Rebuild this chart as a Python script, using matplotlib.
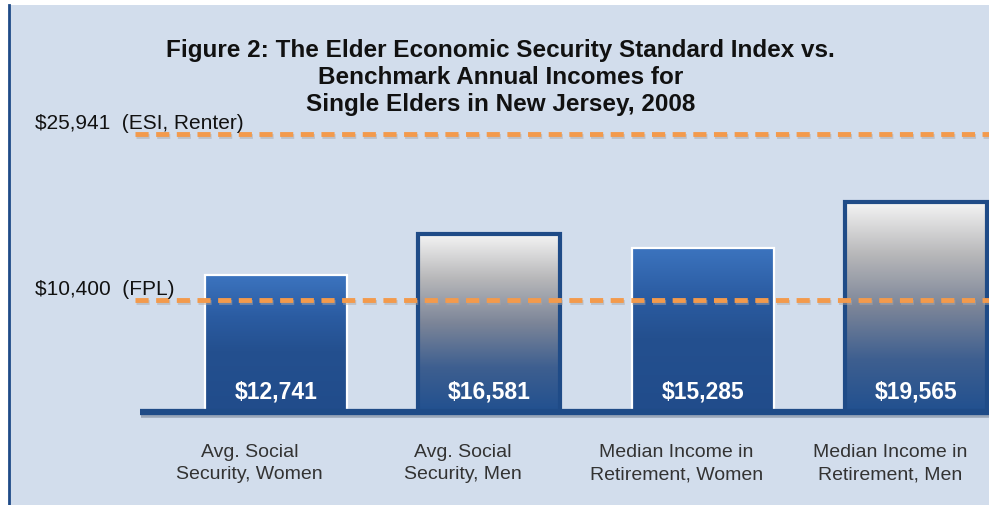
import matplotlib.pyplot as plt
import matplotlib.transforms as mtransforms
from matplotlib.colors import LinearSegmentedColormap
from matplotlib.patches import Rectangle
import numpy as np

plt.rcParams['font.family'] = ['Liberation Sans', 'DejaVu Sans']

# data
categories = ["Avg. Social\nSecurity, Women", "Avg. Social\nSecurity, Men",
              "Median Income in\nRetirement, Women", "Median Income in\nRetirement, Men"]
incomes = [12741, 16581, 15285, 19565]
bar_styles = ["blue", "silver", "blue", "silver"]
ref_values = [25941, 10400]
ref_labels = ["$25,941  (ESI, Renter)", "$10,400  (FPL)"]
title = ("Figure 2: The Elder Economic Security Standard Index vs.\n"
         "Benchmark Annual Incomes for\nSingle Elders in New Jersey, 2008")

BG = "#d2ddec"
NAVY = "#1f4b87"
ORANGE = "#f39a4c"

blue_cmap = LinearSegmentedColormap.from_list(
    "blue", [(0, "#214c8b"), (0.45, "#24508f"), (0.7, "#2b5ca2"), (1, "#3c74bf")])
silver_cmap = LinearSegmentedColormap.from_list(
    "silver", [(0, "#21508f"), (0.25, "#3e5f90"), (0.5, "#7c8598"), (0.75, "#b7b7b9"), (1, "#f4f4f4")])
cmaps = {"blue": blue_cmap, "silver": silver_cmap}
edges = {"blue": "white", "silver": NAVY}
edge_w = {"blue": 1.6, "silver": 3.0}

fig = plt.figure(figsize=(9.89, 5.06), dpi=100, facecolor="white")

# panel background with dark left border
fig.patches.append(Rectangle((9 / 989, 0), 1, 1 - 6 / 506, transform=fig.transFigure,
                             facecolor=BG, edgecolor="none", zorder=-2))
fig.lines.append(plt.Line2D([9 / 989, 9 / 989], [0, 1 - 6 / 506], transform=fig.transFigure,
                            color=NAVY, lw=2, zorder=-1))

ax = fig.add_axes([140 / 989, 93 / 506, 849 / 989, 313 / 506])
ax.set_facecolor("none")
ax.axis("off")

x = np.arange(len(categories))
bars = ax.bar(x, incomes, width=0.665, zorder=3)
grad = np.linspace(0, 1, 256).reshape(-1, 1)
for b, style, val in zip(bars, bar_styles, incomes):
    b.set_facecolor("none")
    b.set_edgecolor(edges[style])
    b.set_linewidth(edge_w[style])
    b.set_zorder(4)
    x0, y0 = b.get_x(), b.get_y()
    im = ax.imshow(grad, cmap=cmaps[style], origin="lower", aspect="auto",
                   extent=[x0, x0 + b.get_width(), y0, y0 + b.get_height()], zorder=3)
    im.set_clip_path(b)
    ax.text(b.get_x() + b.get_width() / 2, 1950, f"${val:,}", ha="center", va="center",
            color="white", fontsize=16.5, fontweight="bold", zorder=6)

ax.set_xlim(-0.637, 3.34)
ax.set_ylim(0, 29170)

# baseline with soft shadow
base_t = ax.get_yaxis_transform()
shadow = base_t + mtransforms.ScaledTranslation(0.5 / 72, -2 / 72, fig.dpi_scale_trans)
ax.plot([0, 1], [0, 0], transform=shadow, color="#9aa6b8", lw=4, zorder=4, clip_on=False,
        solid_capstyle="butt")
ax.plot([0, 1], [0, 0], transform=base_t, color=NAVY, lw=4.5, zorder=5, clip_on=False,
        solid_capstyle="butt")

# reference lines
blend = mtransforms.blended_transform_factory(fig.transFigure, ax.transData)
for val, lab in zip(ref_values, ref_labels):
    sh = blend + mtransforms.ScaledTranslation(0.7 / 72, -1.5 / 72, fig.dpi_scale_trans)
    ax.plot([135 / 989, 1], [val, val], transform=sh, color="#a9a6a6", lw=3.5,
            dashes=(2.7, 1.55), zorder=6, clip_on=False, alpha=0.5)
    ax.plot([135 / 989, 1], [val, val], transform=blend, color=ORANGE, lw=3.5,
            dashes=(2.7, 1.55), zorder=7, clip_on=False)
    ax.text(35 / 989, val, lab,
            transform=blend + mtransforms.ScaledTranslation(0, 1.5 / 72, fig.dpi_scale_trans),
            ha="left", va="bottom", fontsize=15, color="#111111", zorder=8)

# category labels (sit a little left of the bar centres in the original)
lab_t = ax.transData + mtransforms.ScaledTranslation(-19 / 72, 0, fig.dpi_scale_trans)
for xi, cat in zip(x, categories):
    ax.text(xi, -2900, cat, transform=lab_t, ha="center", va="top", fontsize=14,
            color="#333333", linespacing=1.38)

fig.text(0.506, 0.922, title, ha="center", va="top", fontsize=17.5, fontweight="bold",
         color="#111111", linespacing=1.22)

fig.savefig("out.png", dpi=100, facecolor="white")
